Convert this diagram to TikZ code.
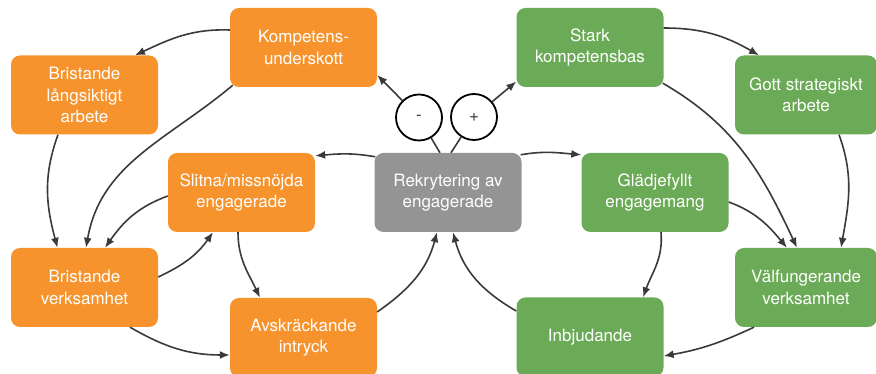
\documentclass[tikz,border=0pt]{standalone}
\usepackage{fontspec}
\setmainfont{TeX Gyre Heros}
\usetikzlibrary{arrows.meta}
\definecolor{orng}{RGB}{247,147,45}
\definecolor{grn}{RGB}{107,170,86}
\definecolor{gry}{RGB}{148,148,148}
\definecolor{arr}{RGB}{58,58,58}
\tikzset{
  box/.style={rounded corners=9pt, minimum width=147pt, minimum height=79pt, inner sep=0pt,
    text=white, align=center, font=\fontsize{17}{21.5}\selectfont},
  obox/.style={box, fill=orng},
  gbox/.style={box, fill=grn},
  greybox/.style={box, fill=gry},
  conn/.style={draw=arr, line width=1.6pt, -{Latex[length=10pt,width=8pt]}},
  plainline/.style={draw=arr, line width=1.6pt},
  sign/.style={circle, draw=black, line width=1.8pt, fill=white, minimum size=46pt, inner sep=0pt,
    font=\fontsize{17}{20}\selectfont, text=arr}
}
\begin{document}
\begin{tikzpicture}[x=1pt,y=1pt]
\useasboundingbox (0,0) rectangle (876,374);
% nodes
\node[obox] (komp) at (303.5,326.5) {Kompetens-\\underskott};
\node[obox] (bla) at (84.5,279) {Bristande\\långsiktigt\\arbete};
\node[obox] (slit) at (241.5,181.5) {Slitna/missnöjda\\engagerade};
\node[greybox] (rek) at (448,181.5) {Rekrytering av\\engagerade};
\node[obox] (bv) at (84.5,86.5) {Bristande\\verksamhet};
\node[obox] (avs) at (303.5,36.5) {Avskräckande\\intryck};
\node[gbox] (stark) at (590,326.5) {Stark\\kompetensbas};
\node[gbox, minimum width=142pt] (gott) at (806,279) {Gott strategiskt\\arbete};
\node[gbox] (glad) at (655,181.5) {Glädjefyllt\\engagemang};
\node[gbox, minimum width=142pt] (vf) at (806,86.5) {Välfungerande\\verksamhet};
\node[gbox] (inbj) at (590,37) {Inbjudande};
\node[sign] (minus) at (419,256.5) {-};
\node[sign] (plus) at (474,257) {+};
% connectors
\draw[conn] ([yshift=17.5pt]komp.west) to[out=178,in=25] ([xshift=50.5pt]bla.north);
\draw[conn] ([xshift=3pt,yshift=2pt]komp.south west) to[out=-140,in=80] ([xshift=1.5pt]bv.north);
\draw[conn] ([xshift=-26.5pt]bla.south) to[out=-110,in=105] ([xshift=-27pt]bv.north);
\draw[conn] ([yshift=-3.5pt]slit.west) to[out=200,in=55] ([xshift=20.5pt]bv.north);
\draw[conn] ([yshift=10.5pt]bv.east) to[out=25,in=235] ([xshift=-28.5pt]slit.south);
\draw[conn] ([xshift=-3.5pt]slit.south) to[out=-90,in=115] ([xshift=-43.5pt]avs.north);
\draw[conn] ([xshift=45.5pt]bv.south) to[out=-30,in=180] ([yshift=-17.5pt]avs.west);
\draw[conn] ([yshift=25.5pt]avs.east) to[out=35,in=-105] ([xshift=-11pt]rek.south);
\draw[conn] ([xshift=1pt,yshift=-4pt]rek.north west) to[out=170,in=5] ([yshift=-3pt]slit.north east);
\draw[plainline] ([xshift=-8pt]rek.north) -- (minus);
\draw[conn] (minus) -- ([yshift=-27.5pt]komp.east);
\draw[plainline] ([xshift=3pt]rek.north) -- (plus);
\draw[conn] (plus) -- ([yshift=-34pt]stark.west);
\draw[conn] ([xshift=-1pt,yshift=-2pt]rek.north east) to[out=10,in=175] ([yshift=-2pt]glad.north west);
\draw[conn] ([yshift=19.5pt]stark.east) to[out=0,in=150] ([xshift=-47pt]gott.north);
\draw[conn] ([xshift=-1pt,yshift=4pt]stark.south east) to[out=-30,in=115] ([xshift=-9pt]vf.north);
\draw[conn] ([xshift=33pt]gott.south) to[out=-70,in=80] ([xshift=35pt]vf.north);
\draw[conn] ([yshift=-9.5pt]glad.east) to[out=-20,in=130] ([xshift=-19pt]vf.north);
\draw[conn] ([xshift=6pt]glad.south) to[out=-85,in=70] ([xshift=53pt]inbj.north);
\draw[conn] ([xshift=-52pt]vf.south) to[out=-155,in=10] ([yshift=-19pt]inbj.east);
\draw[conn] ([yshift=26pt]inbj.west) to[out=150,in=-75] ([xshift=5pt]rek.south);
\end{tikzpicture}
\end{document}
